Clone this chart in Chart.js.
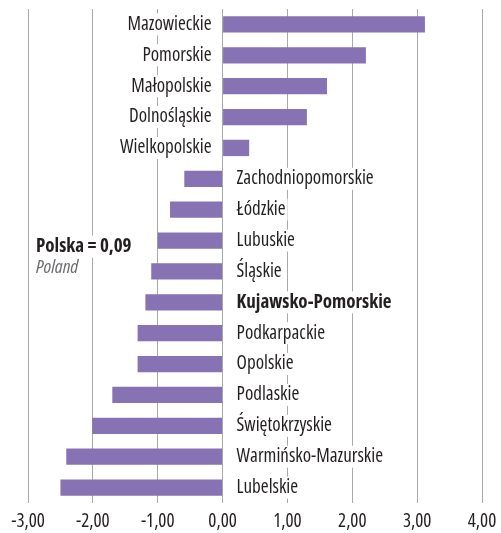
<!DOCTYPE html>
<html>
<head>
<meta charset="utf-8">
<script src="https://cdn.jsdelivr.net/npm/chart.js@4/dist/chart.umd.min.js"></script>
<style>
  html, body { margin: 0; padding: 0; background: #fff; }
  #wrap { width: 501px; height: 533px; }
</style>
</head>
<body>
<div id="wrap"><canvas id="myChart" width="501" height="533"></canvas></div>
<script>
// regions, top to bottom
const regions = ['Mazowieckie', 'Pomorskie', 'Małopolskie', 'Dolnośląskie', 'Wielkopolskie',
  'Zachodniopomorskie', 'Łódzkie', 'Lubuskie', 'Śląskie', 'Kujawsko-Pomorskie',
  'Podkarpackie', 'Opolskie', 'Podlaskie', 'Świętokrzyskie', 'Warmińsko-Mazurskie', 'Lubelskie'];
const values = [3.12, 2.21, 1.61, 1.30, 0.41, -0.59, -0.81, -1.00, -1.10, -1.19,
  -1.31, -1.31, -1.70, -2.01, -2.41, -2.50];
const highlight = 'Kujawsko-Pomorskie';
const polandValue = 0.09;
const xTicks = [-3, -2, -1, 0, 1, 2, 3, 4];

const FONT = '"Open Sans", sans-serif';
const TEXT = '#231f20';

function fmt(v) {
  return v.toFixed(2).replace('.', ',');
}

function setFont(ctx, prefix, size) {
  ctx.font = prefix + 'condensed ' + size + 'px ' + FONT;
  ctx.fontStretch = 'condensed';
}

// region names next to the bars, plus the Polska note
const labelPlugin = {
  id: 'regionLabels',
  afterDatasetsDraw(chart) {
    const ctx = chart.ctx;
    const xs = chart.scales.x;
    const ys = chart.scales.y;
    const zero = xs.getPixelForValue(0);
    ctx.save();
    ctx.textBaseline = 'middle';
    regions.forEach((name, i) => {
      const y = ys.getPixelForValue(i);
      setFont(ctx, name === highlight ? 'bold ' : '', 19);
      const w = ctx.measureText(name).width;
      let x;
      if (values[i] >= 0) {
        ctx.textAlign = 'right';
        x = zero - 11;
        ctx.fillStyle = '#fff';
        ctx.fillRect(x - w - 2, y - 11, w + 4, 22);
      } else {
        ctx.textAlign = 'left';
        x = zero + 14;
        ctx.fillStyle = '#fff';
        ctx.fillRect(x - 2, y - 11, w + 4, 22);
      }
      ctx.fillStyle = TEXT;
      ctx.fillText(name, x, y);
    });

    // Polska = 0,09 / Poland
    const py = ys.getPixelForValue(7) + 6;
    const t1 = 'Polska = ' + fmt(polandValue);
    ctx.textAlign = 'left';
    setFont(ctx, 'bold ', 19);
    const w1 = ctx.measureText(t1).width;
    ctx.fillStyle = '#fff';
    ctx.fillRect(34, py - 11, w1 + 4, 22);
    ctx.fillStyle = TEXT;
    ctx.fillText(t1, 36, py);
    setFont(ctx, 'italic ', 19);
    const w2 = ctx.measureText('Poland').width;
    ctx.fillStyle = '#fff';
    ctx.fillRect(34, py + 11, w2 + 4, 21);
    ctx.fillStyle = '#6d6e71';
    ctx.fillText('Poland', 36, py + 21);
    ctx.restore();
  }
};

new Chart(document.getElementById('myChart'), {
  type: 'bar',
  data: {
    labels: regions,
    datasets: [{
      data: values,
      backgroundColor: '#8772b3',
      borderWidth: 0,
      barPercentage: 0.53,
      categoryPercentage: 1
    }]
  },
  options: {
    indexAxis: 'y',
    responsive: false,
    animation: false,
    layout: { padding: { left: 28, right: 19, top: 9, bottom: 0 } },
    plugins: {
      legend: { display: false },
      tooltip: { enabled: false }
    },
    scales: {
      x: {
        min: xTicks[0],
        max: xTicks[xTicks.length - 1],
        afterBuildTicks(axis) {
          axis.ticks = xTicks.map(v => ({ value: v }));
        },
        afterFit(axis) {
          axis.height = 30;
          axis.paddingLeft = 0;
          axis.paddingRight = 0;
        },
        grid: { color: '#a7a9ac', lineWidth: 1, drawTicks: false },
        border: { display: false },
        ticks: {
          padding: 7,
          color: TEXT,
          font: { family: FONT, size: 19, weight: 'condensed' },
          maxRotation: 0,
          callback: v => fmt(v)
        }
      },
      y: {
        display: false
      }
    }
  },
  plugins: [labelPlugin]
});
</script>
</body>
</html>
